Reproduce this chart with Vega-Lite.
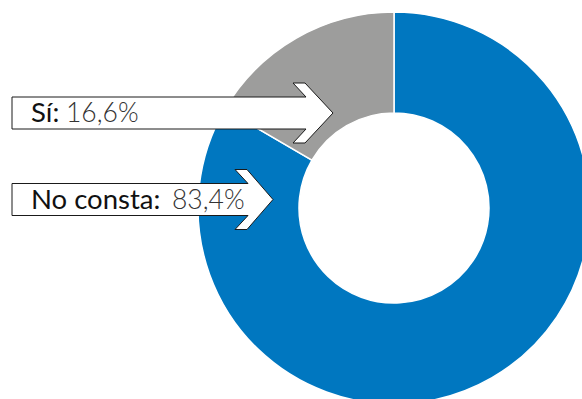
{
  "$schema": "https://vega.github.io/schema/vega-lite/v6.json",
  "width": 582,
  "height": 399,
  "autosize": "none",
  "padding": 0,
  "background": "white",
  "config": {"view": {"stroke": null}},
  "data": {"values": [
    {"categoria": "No consta", "valor": 83.4},
    {"categoria": "Sí", "valor": 16.6}
  ]},
  "layer": [
    {
      "mark": {"type": "arc", "outerRadius": 196, "innerRadius": 95, "stroke": "white", "strokeWidth": 1.5, "x": 394, "y": 208},
      "encoding": {
        "theta": {"field": "valor", "type": "quantitative", "stack": true},
        "order": {"field": "valor", "sort": "descending"},
        "color": {"field": "categoria", "type": "nominal", "legend": null,
          "scale": {"domain": ["No consta", "Sí"], "range": ["#0077c0", "#9d9d9c"]}}
      }
    },
    {
      "mark": {"type": "point", "filled": true, "fill": "white", "stroke": "#1a1a1a", "strokeWidth": 1, "size": 4, "opacity": 1, "x": 12},
      "encoding": {
        "y": {"field": "categoria", "type": "nominal", "axis": null,
          "scale": {"type": "point", "domain": ["Sí", "No consta"], "range": [113, 199.5], "padding": 0}},
        "shape": {"field": "categoria", "type": "nominal", "legend": null,
          "scale": {"domain": ["Sí", "No consta"], "range": [
            "M 0 -16 L 294 -16 L 281 -30 L 293 -30 L 321 0 L 293 30 L 281 30 L 294 16 L 0 16 Z",
            "M 0 -16 L 236 -16 L 223 -30 L 235 -30 L 261 0 L 235 30 L 223 30 L 236 16 L 0 16 Z"
          ]}}
      }
    },
    {
      "mark": {"type": "text", "align": "left", "baseline": "alphabetic", "dy": 9.3, "font": "Lato", "fontSize": 27.5, "fontWeight": 400, "color": "#111111", "x": 31, "text": {"expr": "datum.categoria + ':'"}},
      "encoding": {
        "y": {"field": "categoria", "type": "nominal", "axis": null}
      }
    },
    {
      "mark": {"type": "text", "align": "left", "baseline": "alphabetic", "dy": 9.3, "font": "Lato", "fontSize": 26.5, "fontWeight": 300, "color": "#333333", "text": {"expr": "replace(format(datum.valor, '.1f'), '.', ',') + '%'"}},
      "encoding": {
        "y": {"field": "categoria", "type": "nominal", "axis": null},
        "x": {"field": "categoria", "type": "nominal", "axis": null,
          "scale": {"type": "point", "domain": ["Sí", "No consta"], "range": [66, 172], "padding": 0}}
      }
    }
  ]
}
